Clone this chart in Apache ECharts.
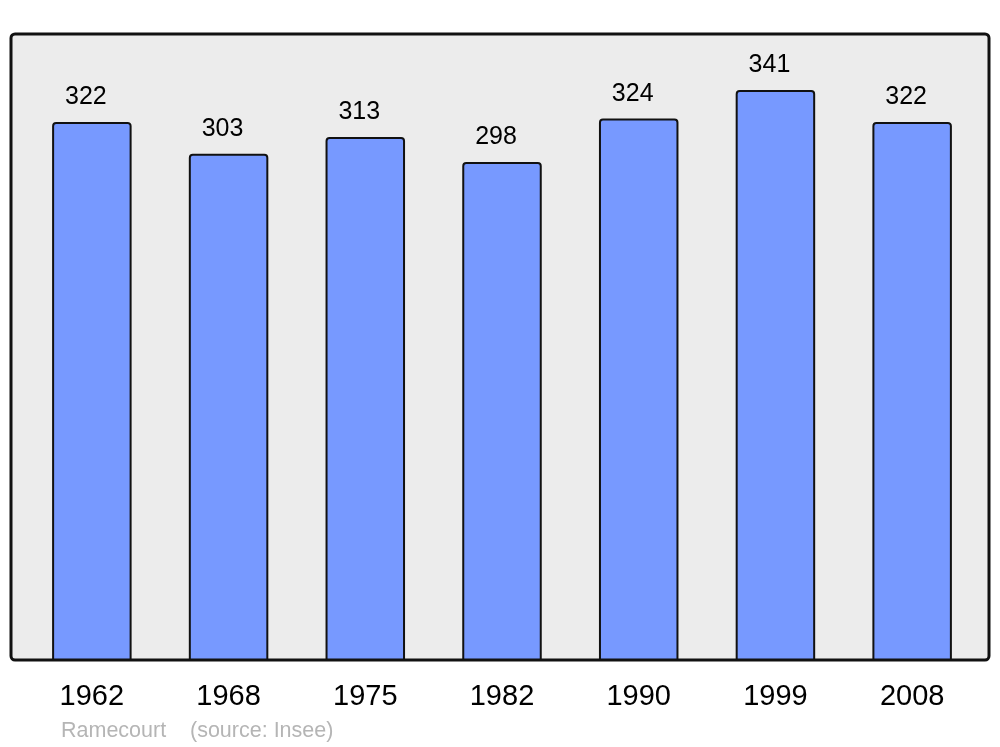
<!DOCTYPE html>
<html>
<head>
<meta charset="utf-8">
<script src="https://cdn.jsdelivr.net/npm/echarts@6/dist/echarts.min.js"></script>
<style>
  html, body { margin: 0; padding: 0; background: #fff; }
  #chart { width: 1000px; height: 747px; }
</style>
</head>
<body>
<div id="chart"></div>
<script>
// population data
const years = ['1962', '1968', '1975', '1982', '1990', '1999', '2008'];
const population = [322, 303, 313, 298, 324, 341, 322];
const townName = 'Ramecourt';
const sourceText = '(source: Insee)';

const font = '"Liberation Sans", Arial, sans-serif';
const chart = echarts.init(document.getElementById('chart'));

chart.setOption({
  animation: false,
  backgroundColor: '#ffffff',
  graphic: [
    {
      type: 'rect',
      z: 0,
      shape: { x: 11, y: 34, width: 978, height: 626, r: 4 },
      style: { fill: '#ececec', stroke: null },
    },
    {
      type: 'rect',
      z: 10,
      silent: true,
      shape: { x: 11, y: 34, width: 978, height: 626, r: 4 },
      style: { fill: null, stroke: '#111111', lineWidth: 3 },
    },
    {
      type: 'text',
      left: 61,
      top: 720,
      style: { text: townName, fill: '#b5b5b5', font: '21.5px ' + font },
    },
    {
      type: 'text',
      left: 190,
      top: 720,
      style: { text: sourceText, fill: '#b5b5b5', font: '21.5px ' + font },
    },
  ],
  grid: {
    left: 23.5,
    right: 19.5,
    top: 34,
    bottom: 86,
    containLabel: false,
  },
  xAxis: {
    type: 'category',
    data: years,
    axisLine: { show: false },
    axisTick: { show: false },
    axisLabel: {
      color: '#000',
      fontSize: 29,
      fontFamily: font,
      margin: 21,
    },
  },
  yAxis: {
    type: 'value',
    min: 0,
    max: 374.5,
    show: false,
    splitLine: { show: false },
  },
  series: [
    {
      type: 'bar',
      z: 2,
      data: population,
      barWidth: 79.5,
      itemStyle: {
        color: '#7799ff',
        borderColor: '#111111',
        borderWidth: 2,
        borderRadius: [3, 3, 0, 0],
      },
      label: {
        show: true,
        position: 'top',
        distance: 12,
        offset: [-6, 0],
        color: '#000',
        fontSize: 25,
        fontFamily: font,
      },
    },
  ],
});
</script>
</body>
</html>
